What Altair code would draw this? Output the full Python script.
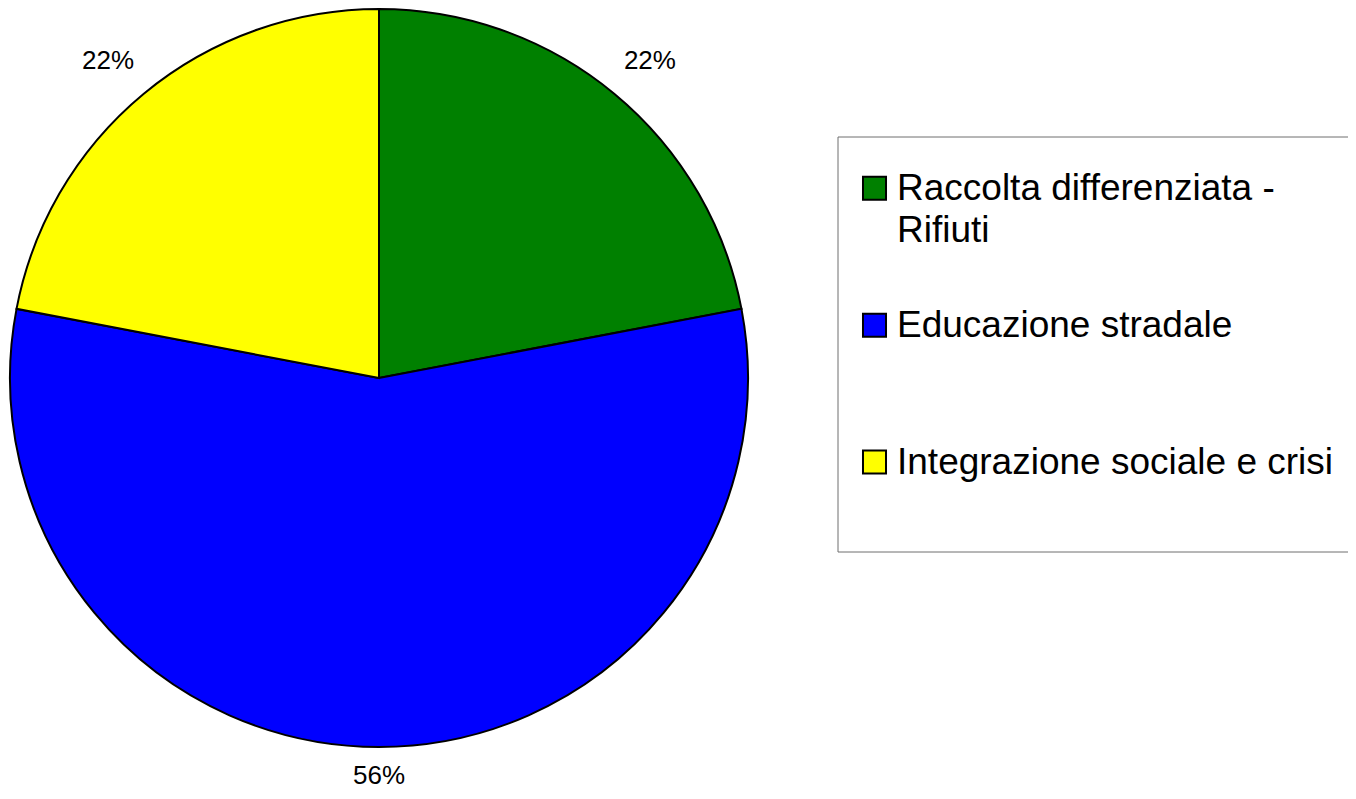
import altair as alt

# ---- data ----
categories = ["Raccolta differenziata - Rifiuti", "Educazione stradale", "Integrazione sociale e crisi"]
legend_lines = [["Raccolta differenziata -", "Rifiuti"], ["Educazione stradale"], ["Integrazione sociale e crisi"]]
values = [22, 56, 22]
pct_labels = ["22%", "56%", "22%"]
colors = ["#008000", "#0000FF", "#FFFF00"]

records = [
    {"cat": c, "value": v, "pct": p, "idx": i, "legend": l}
    for i, (c, v, p, l) in enumerate(zip(categories, values, pct_labels, legend_lines))
]

FONT = "Liberation Sans"
CX, CY = 371, 370          # pie centre in view coordinates
R = 369

base = alt.Chart(alt.Data(values=records))
color = alt.Color("cat:N", scale=alt.Scale(domain=categories, range=colors), legend=None)
theta = alt.Theta("value:Q", stack=True)
order = alt.Order("idx:Q")

MID = "scale('theta', 0.5*datum['value_start'] + 0.5*datum['value_end'])"

pie = base.mark_arc(radius=R, stroke="black", strokeWidth=2).encode(
    theta=theta, order=order, color=color,
    x=alt.value(CX), y=alt.value(CY),
)

labels = base.mark_text(
    radius=398, fontSize=26, font=FONT, color="black",
    dx={"expr": f"27*sin({MID})"},
    dy={"expr": f"-14*max(0, cos({MID}))"},
).encode(
    theta=theta, order=order, text="pct:N",
    x=alt.value(CX), y=alt.value(CY),
)

box = alt.Chart(alt.Data(values=[{"b": 1}])).mark_rect(
    fill="white", stroke="#6e6e6e", strokeWidth=1
).encode(
    x=alt.value(830), x2=alt.value(1400), y=alt.value(129), y2=alt.value(544)
)

y_leg = alt.Y("cat:N", scale=alt.Scale(domain=categories, range=[180.3, 454], padding=0), axis=None)

swatches = base.mark_point(
    shape="square", size=530, filled=True, opacity=1, stroke="black", strokeWidth=2
).encode(x=alt.value(866.5), y=y_leg, color=color)

leg_text = base.mark_text(
    align="left", baseline="alphabetic", dy=12, fontSize=37, lineHeight=42,
    font=FONT, color="black",
).encode(x=alt.value(889), y=y_leg, text="legend:N")

chart = alt.layer(pie, labels, box, swatches, leg_text).properties(
    width=1340, height=783, padding=0,
    autosize=alt.AutoSizeParams(type="none"),
    background="white",
).configure_view(stroke=None)

chart.save("out.html", embed_options={"renderer": "svg", "actions": False})
